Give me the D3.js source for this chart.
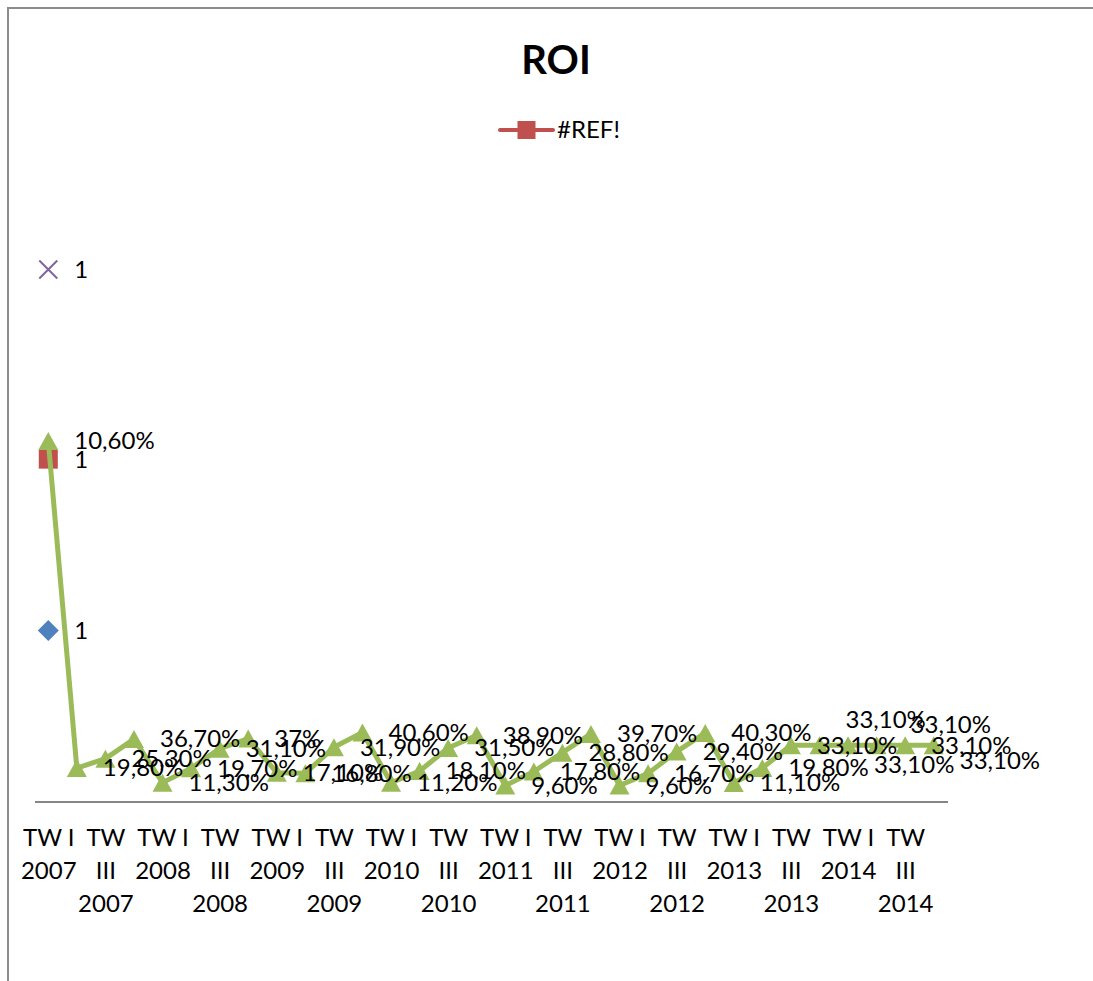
<!DOCTYPE html>
<html>
<head>
<meta charset="utf-8">
<script src="https://cdn.jsdelivr.net/npm/d3@7"></script>
<style>
  body { margin: 0; background: #fff; }
  text { font-family: Lato, "Liberation Sans", sans-serif; fill: #000; }
</style>
</head>
<body>
<div id="chart"></div>
<script>
// categories: 4 quarters x 8 years
var years = ["2007", "2008", "2009", "2010", "2011", "2012", "2013", "2014"];
var quarters = ["TW I", "TW II", "TW III", "TW IV"];
var categories = [];
years.forEach(function(y) {
  quarters.forEach(function(q) { categories.push(q + " " + y); });
});

// series (stacked line chart, blanks elsewhere)
var seriesDiamond = [1];
var seriesSquare = [1];
var roi = [0.106, 0.198, 0.253, 0.367, 0.113, 0.197, 0.311, 0.37,
           0.171, 0.168, 0.319, 0.406, 0.112, 0.181, 0.315, 0.389,
           0.096, 0.178, 0.288, 0.397, 0.096, 0.167, 0.294, 0.403,
           0.111, 0.198, 0.331, 0.331, 0.331, 0.331, 0.331, 0.331];
var seriesCross = [1];
var legendLabels = ["#REF!"];

// label nudges (dx, dy) where Excel moved overlapping labels
var labelNudge = { 27: [0, -26], 28: [0, 19], 29: [8, -21], 31: [0, 15] };

const width = 1093;
const height = 981;

var svg = d3.select("#chart").append("svg")
  .attr("width", width)
  .attr("height", height);

svg.append("rect")
  .attr("width", width)
  .attr("height", height)
  .attr("fill", "#ffffff");

// chart area border (runs off the picture on right / bottom)
svg.append("rect")
  .attr("x", 8)
  .attr("y", 8)
  .attr("width", 1200)
  .attr("height", 1100)
  .attr("fill", "none")
  .attr("stroke", "#8c8c8c")
  .attr("stroke-width", 2);

var x = d3.scalePoint()
  .domain(categories)
  .range([34, 948])
  .padding(0.5);

var y = d3.scaleLinear()
  .domain([0, 3.5])
  .range([802, 202]);

// title
svg.append("text")
  .attr("x", 556)
  .attr("y", 74)
  .attr("text-anchor", "middle")
  .style("font-size", "40px")
  .style("font-weight", "bold")
  .text("ROI");

// legend
var lg = svg.append("g").attr("transform", "translate(500,130)");
lg.append("line")
  .attr("x1", 0).attr("x2", 53)
  .attr("stroke", "#C0504D")
  .attr("stroke-width", 4)
  .attr("stroke-linecap", "round");
lg.append("rect")
  .attr("x", 17.5).attr("y", -9)
  .attr("width", 18).attr("height", 18)
  .attr("fill", "#C0504D");
lg.append("text")
  .attr("x", 57)
  .attr("dy", "0.35em")
  .style("font-size", "24px")
  .text(legendLabels[0]);

// x axis
var xAxis = svg.append("g")
  .attr("transform", "translate(0,802)")
  .call(d3.axisBottom(x)
    .tickValues(categories.filter(function(d, i) { return i % 2 === 0; }))
    .tickSize(0)
    .tickPadding(0));
xAxis.select(".domain").remove();
xAxis.append("line")
  .attr("x1", 35).attr("x2", 948)
  .attr("stroke", "#868686")
  .attr("stroke-width", 2);

// wrap tick labels like Excel
xAxis.selectAll(".tick text").each(function(d) {
  var t = d3.select(this);
  t.attr("y", null).attr("dy", null)
    .style("font-size", "24px")
    .attr("font-family", null)
    .text(null);
  var words = d.split(" ");
  var lines = [];
  var line = [];
  var probe = t.append("tspan");
  words.forEach(function(w) {
    var test = line.concat([w]).join(" ");
    probe.text(test);
    if (line.length && probe.node().getComputedTextLength() > 54) {
      lines.push(line.join(" "));
      line = [w];
    } else {
      line.push(w);
    }
  });
  lines.push(line.join(" "));
  probe.remove();
  lines.forEach(function(l, i) {
    t.append("tspan")
      .attr("x", 0)
      .attr("y", 44 + i * 33)
      .text(l);
  });
});

// stacking at each category
function stackValue(i, upTo) {
  var all = [seriesDiamond, seriesSquare, roi, seriesCross];
  var s = 0;
  for (var k = 0; k <= upTo; k++) {
    if (all[k][i] != null) s += all[k][i];
  }
  return s;
}

function fmtPct(v) {
  var p = Math.round(v * 10000) / 100;
  if (p === Math.round(p)) return p + "%";
  return p.toFixed(2).replace(".", ",") + "%";
}

var plot = svg.append("g");
var labels = [];

// series 1: diamond
seriesDiamond.forEach(function(v, i) {
  var cx = x(categories[i]), cy = y(stackValue(i, 0));
  plot.append("path")
    .attr("d", "M" + cx + "," + (cy - 10.5) + "L" + (cx + 10.5) + "," + cy +
               "L" + cx + "," + (cy + 10.5) + "L" + (cx - 10.5) + "," + cy + "Z")
    .attr("fill", "#4F81BD");
  labels.push({ x: cx, y: cy, t: String(v) });
});

// series 2: square
seriesSquare.forEach(function(v, i) {
  var cx = x(categories[i]), cy = y(stackValue(i, 1));
  plot.append("rect")
    .attr("x", cx - 9.5).attr("y", cy - 9.5)
    .attr("width", 19).attr("height", 19)
    .attr("fill", "#C0504D");
  labels.push({ x: cx, y: cy, t: String(v) });
});

// series 3: ROI, triangles
var roiPts = roi.map(function(v, i) {
  return { x: x(categories[i]), y: y(stackValue(i, 2)), v: v, i: i };
});
plot.append("path")
  .datum(roiPts)
  .attr("d", d3.line().x(function(d) { return d.x; }).y(function(d) { return d.y; }))
  .attr("fill", "none")
  .attr("stroke", "#9BBB59")
  .attr("stroke-width", 5)
  .attr("stroke-linejoin", "round");
plot.selectAll(".tri")
  .data(roiPts)
  .enter().append("path")
  .attr("class", "tri")
  .attr("d", function(d) {
    return "M" + d.x + "," + (d.y - 9) + "L" + (d.x + 10) + "," + (d.y + 9) +
           "L" + (d.x - 10) + "," + (d.y + 9) + "Z";
  })
  .attr("fill", "#9BBB59");
roiPts.forEach(function(d) {
  var n = labelNudge[d.i] || [0, 0];
  labels.push({ x: d.x + n[0], y: d.y + n[1], t: fmtPct(d.v) });
});

// series 4: cross
seriesCross.forEach(function(v, i) {
  var cx = x(categories[i]), cy = y(stackValue(i, 3));
  plot.append("path")
    .attr("d", "M" + (cx - 9) + "," + (cy - 9) + "L" + (cx + 9) + "," + (cy + 9) +
               "M" + (cx + 9) + "," + (cy - 9) + "L" + (cx - 9) + "," + (cy + 9))
    .attr("stroke", "#8064A2")
    .attr("stroke-width", 2);
  labels.push({ x: cx, y: cy, t: String(v) });
});

// data labels, right of points
svg.append("g").selectAll("text")
  .data(labels)
  .enter().append("text")
  .attr("x", function(d) { return d.x + 26; })
  .attr("y", function(d) { return d.y; })
  .attr("dy", "0.35em")
  .style("font-size", "24px")
  .text(function(d) { return d.t; });
</script>
</body>
</html>
